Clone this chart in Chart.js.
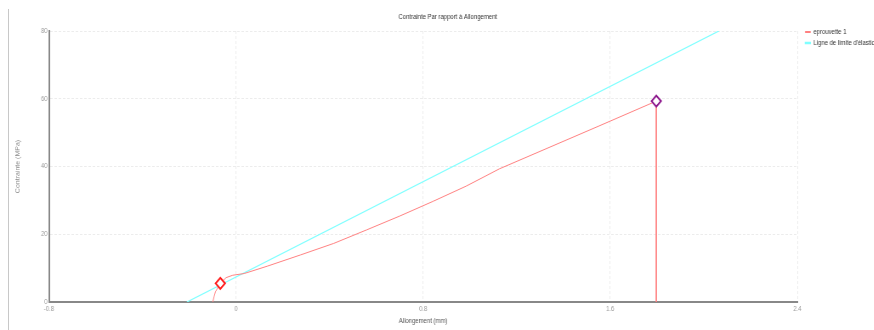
<!DOCTYPE html>
<html lang="fr">
<head>
<meta charset="utf-8">
<title>Contrainte Par rapport à Allongement</title>
<script src="https://cdn.jsdelivr.net/npm/chart.js@4/dist/chart.umd.min.js"></script>
<style>
  html, body { margin: 0; padding: 0; background: #fff; overflow: hidden; }
  #frame { position: relative; width: 874px; height: 330px; overflow: hidden; }
  #stage { position: absolute; left: 0; top: 0; width: 1038px; height: 330px;
           transform: scaleX(0.85); transform-origin: 0 0; }
  #rule { position: absolute; left: 8px; top: 9px; bottom: 0; width: 1px; background: #c8c8c8; }
</style>
</head>
<body>
<div id="frame">
  <div id="stage"><canvas id="chart" width="1038" height="330"></canvas></div>
  <div id="rule"></div>
</div>
<script>
// Essai de traction : éprouvette 1
const allongementEprouvette = [-0.099, -0.094, -0.088, -0.067, -0.042, -0.014, 0.035, 0.135, 0.276, 0.418, 0.559, 0.701, 0.842, 0.984, 1.126, 1.550, 1.797, 1.797];
const contrainteEprouvette  = [0, 1.5, 3.0, 5.5, 7.2, 7.9, 8.4, 10.6, 13.9, 17.3, 21.3, 25.4, 29.7, 34.2, 39.3, 51.9, 59.3, 0];

// Points remarquables : limite d'élasticité et rupture
const indexLimiteElastique = 3;
const indexRupture = 16;

// Droite de limite d'élasticité
const allongementLimite = [-0.21, 2.065];
const contrainteLimite  = [0, 80];

// Graduations
const ticksAllongement = [-0.8, 0, 0.8, 1.6, 2.4];
const ticksContrainte  = [0, 20, 40, 60, 80];

const labelsSeries = ['eprouvette 1', "Ligne de limite d'élasticité"];

const toPoints = (xs, ys) => xs.map((x, i) => ({ x, y: ys[i] }));

const FONT = "'Liberation Sans', Arial, sans-serif";

// Décale la légende par rapport à sa boîte
const legendNudge = {
  id: 'legendNudge',
  afterLayout(chart, args, opts) {
    if (chart.legend) {
      chart.legend.left += opts.x || 0;
      chart.legend.top += opts.y || 0;
    }
  }
};

const isMarker = i => i === indexLimiteElastique || i === indexRupture;

new Chart(document.getElementById('chart'), {
  type: 'line',
  data: {
    datasets: [
      {
        label: labelsSeries[0],
        data: toPoints(allongementEprouvette, contrainteEprouvette),
        borderColor: 'rgb(255,128,128)',
        backgroundColor: 'rgb(255,128,128)',
        borderWidth: 1,
        fill: false,
        tension: 0,
        pointStyle: 'rectRot',
        pointRadius: ctx => isMarker(ctx.dataIndex) ? 5.5 : 0,
        pointHoverRadius: ctx => isMarker(ctx.dataIndex) ? 5.5 : 0,
        pointBorderWidth: 2,
        pointBackgroundColor: '#fff',
        pointBorderColor: ctx => ctx.dataIndex === indexRupture ? '#8e1a8e' : '#ff1a1a'
      },
      {
        label: labelsSeries[1],
        data: toPoints(allongementLimite, contrainteLimite),
        borderColor: 'rgb(128,255,255)',
        backgroundColor: 'rgb(128,255,255)',
        borderWidth: 1.3,
        fill: false,
        pointRadius: 0,
        pointHoverRadius: 0
      }
    ]
  },
  plugins: [legendNudge],
  options: {
    responsive: false,
    maintainAspectRatio: false,
    animation: false,
    devicePixelRatio: 1,
    layout: { padding: { left: 15.5, right: 0, top: 0, bottom: 0 } },
    plugins: {
      legendNudge: { x: 5.4, y: 24.5 },
      tooltip: { enabled: false },
      title: {
        display: true,
        text: 'Contrainte Par rapport à Allongement',
        color: '#333',
        font: { family: FONT, size: 7, weight: 'normal' },
        padding: { top: 12.8, bottom: 9.8 }
      },
      legend: {
        display: true,
        position: 'right',
        align: 'start',
        maxWidth: 100,
        labels: {
          boxWidth: 6,
          boxHeight: 1,
          padding: 4,
          color: '#333',
          font: { family: FONT, size: 7 }
        }
      }
    },
    scales: {
      x: {
        type: 'linear',
        min: -0.8,
        max: 2.4,
        afterFit: s => { s.height = 28; },
        afterBuildTicks: s => { s.ticks = ticksAllongement.map(v => ({ value: v })); },
        ticks: {
          padding: 3,
          color: '#999',
          font: { family: FONT, size: 7 },
          maxRotation: 0,
          callback: v => String(v)
        },
        grid: { color: '#ececec', lineWidth: 1, drawTicks: false },
        // axe plein, grille en pointillés
        border: { display: true, color: '#888', width: 2, dash: [3, 2] },
        title: {
          display: true,
          text: 'Allongement (mm)',
          color: '#555',
          font: { family: FONT, size: 7 },
          padding: { top: 0, bottom: 4.8 }
        }
      },
      y: {
        type: 'linear',
        min: 0,
        max: 80,
        afterFit: s => { s.width = 42; },
        afterBuildTicks: s => { s.ticks = ticksContrainte.map(v => ({ value: v })); },
        ticks: {
          padding: 1.5,
          color: '#999',
          font: { family: FONT, size: 7 }
        },
        grid: { color: '#ececec', lineWidth: 1, drawTicks: false },
        border: { display: true, color: '#888', width: 2, dash: [3, 2] },
        title: {
          display: true,
          text: 'Contrainte (MPa)',
          color: '#888',
          font: { family: FONT, size: 7 },
          padding: { top: 1.5, bottom: 0 }
        }
      }
    }
  }
});
</script>
</body>
</html>
